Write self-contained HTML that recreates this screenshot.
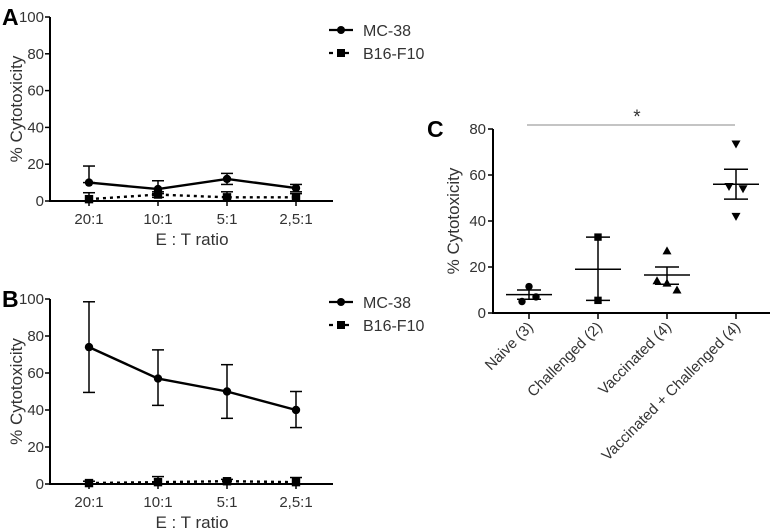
<!DOCTYPE html>
<html><head><meta charset="utf-8"><style>
body{margin:0;background:#fff;}
svg{display:block;font-family:"Liberation Sans",Arial,sans-serif;}
</style></head><body>
<svg id="c" width="773" height="530" viewBox="0 0 773 530"></svg>
<script>
const ratioCats=["20:1","10:1","5:1","2,5:1"];
const aMC=[10,6.5,12,7];
const aMCHi=[19,11,15,9];
const aMCLo=[10,4,9,5];
const aB16=[1,3.5,2,2];
const aB16Hi=[4.5,5,5,4];
const aB16Lo=[0,2,0,0];
const bMC=[74,57,50,40];
const bMCHi=[98.5,72.5,64.5,50];
const bMCLo=[49.5,42.5,35.5,30.5];
const bB16=[0.5,1,1.5,1];
const bB16Hi=[1.5,4,2.5,3.5];
const bB16Lo=[0,0,0,0];
const yTicksAB=[0,20,40,60,80,100];
const groups=["Naive (3)","Challenged (2)","Vaccinated (4)","Vaccinated + Challenged (4)"];
const groupPts=[[11.5,5,7],[33,5.5],[27,14,10,13],[73.5,55,54,42]];
const groupMean=[8,19,16.5,56];
const groupSemHi=[10,33,20,62.5];
const groupSemLo=[6,5.5,12.5,49.5];
const yTicksC=[0,20,40,60,80];

const svg=document.getElementById('c');
const NS='http://www.w3.org/2000/svg';
function el(tag,attrs,parent){const e=document.createElementNS(NS,tag);for(const k in attrs)e.setAttribute(k,attrs[k]);(parent||svg).appendChild(e);return e;}
function txt(s,attrs,parent){const e=el('text',attrs,parent);e.textContent=s;return e;}

function panelAB(letter,y0,y100,legY,mc,mcHi,mcLo,b16,b16Hi,b16Lo){
  const g=el('g',{});
  
  
  const xs=i=>89+i*69;
  const ys=v=>y0-(v/100)*(y0-y100);
  let t=txt(letter,{x:2,y:y100+8,'font-size':23,'font-weight':'bold',fill:'#000'},g);
  
  
  let ax=el('line',{x1:50,y1:y100,x2:50,y2:y0,stroke:'#000','stroke-width':2},g);
  
  
  let xa=el('line',{x1:49,y1:y0,x2:333,y2:y0,stroke:'#000','stroke-width':2},g);
  
  
  yTicksAB.forEach(v=>{
    el('line',{x1:45,y1:ys(v),x2:50,y2:ys(v),stroke:'#000','stroke-width':1.5},g);
    const l=txt(v,{x:44,y:ys(v)+5,'font-size':15,fill:'#333','text-anchor':'end'},g);
    
    
  });
  ratioCats.forEach((c,i)=>{
    el('line',{x1:xs(i),y1:y0,x2:xs(i),y2:y0+5,stroke:'#000','stroke-width':1.5},g);
    const l=txt(c,{x:xs(i),y:y0+23,'font-size':15,fill:'#333','text-anchor':'middle'},g);
    
    
  });
  let xt=txt('E : T ratio',{x:192,y:y0+44,'font-size':17,fill:'#333','text-anchor':'middle'},g);
  
  
  const cy=(y0+y100)/2;
  let yt=txt('% Cytotoxicity',{x:0,y:0,'font-size':17,fill:'#333','text-anchor':'middle',transform:`translate(22,${cy}) rotate(-90)`},g);
  
  
  function series(vals,hi,lo,dashed,marker,name){
    const sg=el('g',{},g);
    
    
    vals.forEach((v,i)=>{
      el('line',{x1:xs(i),y1:ys(hi[i]),x2:xs(i),y2:ys(lo[i]),stroke:'#000','stroke-width':1.5},sg);
      el('line',{x1:xs(i)-6,y1:ys(hi[i]),x2:xs(i)+6,y2:ys(hi[i]),stroke:'#000','stroke-width':1.5},sg);
      el('line',{x1:xs(i)-6,y1:ys(lo[i]),x2:xs(i)+6,y2:ys(lo[i]),stroke:'#000','stroke-width':1.5},sg);
    });
    const pts=vals.map((v,i)=>xs(i)+','+ys(v)).join(' ');
    el('polyline',{points:pts,fill:'none',stroke:'#000','stroke-width':2.4,'stroke-dasharray':dashed?'3,4':'none'},sg);
    vals.forEach((v,i)=>{
      let m;
      if(marker==='circle')m=el('circle',{cx:xs(i),cy:ys(v),r:4.2,fill:'#000'},sg);
      else m=el('rect',{x:xs(i)-4.2,y:ys(v)-4.2,width:8.4,height:8.4,fill:'#000'},sg);
      
      
    });
  }
  series(b16,b16Hi,b16Lo,true,'square','b16-f10');
  series(mc,mcHi,mcLo,false,'circle','mc-38');
  const lg=el('g',{},g);
  
  
  el('line',{x1:329,y1:legY,x2:353,y2:legY,stroke:'#000','stroke-width':2.2},lg);
  el('circle',{cx:341,cy:legY,r:4,fill:'#000'},lg);
  txt('MC-38',{x:363,y:legY+6,'font-size':16,fill:'#333'},lg);
  el('line',{x1:329,y1:legY+23,x2:353,y2:legY+23,stroke:'#000','stroke-width':2.2,'stroke-dasharray':'4,4'},lg);
  el('rect',{x:337,y:legY+19,width:8,height:8,fill:'#000'},lg);
  txt('B16-F10',{x:363,y:legY+29,'font-size':16,fill:'#333'},lg);
}
panelAB('A',201,17,30,aMC,aMCHi,aMCLo,aB16,aB16Hi,aB16Lo);
panelAB('B',484,299,302,bMC,bMCHi,bMCLo,bB16,bB16Hi,bB16Lo);

// Panel C
(function(){
  const g=el('g',{});
  
  
  const y0=313,y80=129;
  const ys=v=>y0-(v/80)*(y0-y80);
  const xs=i=>529+i*69;
  const jitter=[0,-1,1,0];
  let t=txt('C',{x:427,y:137,'font-size':23,'font-weight':'bold',fill:'#000'},g);
  
  
  let ax=el('line',{x1:493,y1:y80,x2:493,y2:y0,stroke:'#000','stroke-width':2},g);
  
  
  let xa=el('line',{x1:492,y1:y0,x2:770,y2:y0,stroke:'#000','stroke-width':2},g);
  
  
  yTicksC.forEach(v=>{
    el('line',{x1:488,y1:ys(v),x2:493,y2:ys(v),stroke:'#000','stroke-width':1.5},g);
    const l=txt(v,{x:486,y:ys(v)+5,'font-size':15,fill:'#333','text-anchor':'end'},g);
    
    
  });
  let yt=txt('% Cytotoxicity',{x:0,y:0,'font-size':17,fill:'#333','text-anchor':'middle',transform:`translate(459,221) rotate(-90)`},g);
  
  
  groups.forEach((c,i)=>{
    el('line',{x1:xs(i),y1:y0,x2:xs(i),y2:y0+6,stroke:'#000','stroke-width':1.5},g);
    const l=txt(c,{x:0,y:0,'font-size':15,fill:'#333','text-anchor':'end',transform:`translate(${xs(i)+5},${y0+15}) rotate(-45)`},g);
    
    
    const gg=el('g',{},g);
    
    
    el('line',{x1:xs(i),y1:ys(groupSemHi[i]),x2:xs(i),y2:ys(groupSemLo[i]),stroke:'#000','stroke-width':1.5},gg);
    el('line',{x1:xs(i)-12,y1:ys(groupSemHi[i]),x2:xs(i)+12,y2:ys(groupSemHi[i]),stroke:'#000','stroke-width':1.5},gg);
    el('line',{x1:xs(i)-12,y1:ys(groupSemLo[i]),x2:xs(i)+12,y2:ys(groupSemLo[i]),stroke:'#000','stroke-width':1.5},gg);
    el('line',{x1:xs(i)-23,y1:ys(groupMean[i]),x2:xs(i)+23,y2:ys(groupMean[i]),stroke:'#000','stroke-width':1.5},gg);
    const n=groupPts[i].length;
    groupPts[i].forEach((v,j)=>{
      const off=n===2?0:jitter[j]*(i===2?10:7);
      const px=xs(i)+off, py=ys(v);
      let m;
      if(i===0)m=el('circle',{cx:px,cy:py,r:3.7,fill:'#000'},gg);
      else if(i===1)m=el('rect',{x:px-3.7,y:py-3.7,width:7.4,height:7.4,fill:'#000'},gg);
      else if(i===2)m=el('polygon',{points:`${px},${py-4.5} ${px-4.5},${py+3.5} ${px+4.5},${py+3.5}`,fill:'#000'},gg);
      else m=el('polygon',{points:`${px},${py+4.5} ${px-4.5},${py-3.5} ${px+4.5},${py-3.5}`,fill:'#000'},gg);
      
      
    });
  });
  let sl=el('line',{x1:527,y1:125,x2:735,y2:125,stroke:'#888','stroke-width':1},g);
  
  
  let st=txt('*',{x:637,y:123,'font-size':19,fill:'#333','text-anchor':'middle'},g);
  
  
})();
</script>
</body></html>
